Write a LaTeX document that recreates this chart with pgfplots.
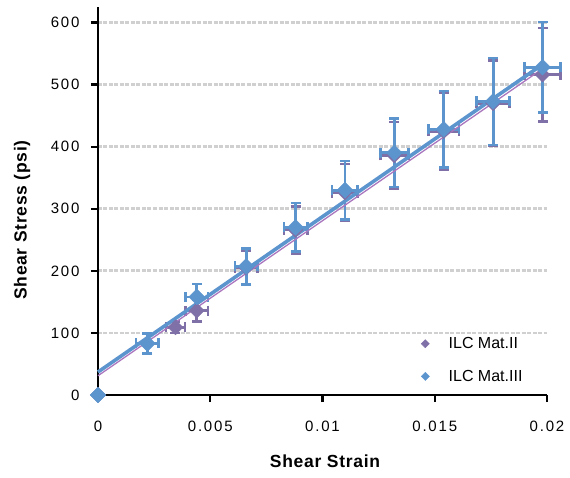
\documentclass[border=0pt]{standalone}
\usepackage{fontspec}
\setmainfont{Liberation Sans}
\usepackage{pgfplots}
\pgfplotsset{compat=1.18}
\usepackage{pgfplotstable}
\definecolor{blueS}{RGB}{92,148,206}
\definecolor{purpS}{RGB}{128,112,168}
\definecolor{purpL}{RGB}{170,118,190}
\definecolor{gridc}{RGB}{208,208,208}

\pgfplotstableread{
x y ex ey
0 0 0 0
0.00345 109 0.00042 9
0.0044 136 0.0005 18
0.0066 205 0.0005 28
0.0088 266 0.00052 38
0.0110 326 0.00057 46
0.0132 386 0.00062 54
0.0154 425 0.00068 62
0.0176 470 0.00073 69
0.0198 516 0.0008 75
}\mattwo

\pgfplotstableread{
x y ex ey
0 0 0 0
0.0022 83 0.0005 16
0.0044 158 0.0005 21
0.0066 207 0.0005 29
0.0088 270 0.00052 39
0.0110 330 0.00057 47
0.0132 390 0.00062 55
0.0154 428 0.00068 62
0.0176 473 0.00073 70
0.0198 528 0.0008 73
}\matthree

\begin{document}
\begin{tikzpicture}
\begin{axis}[
  scale only axis, width=449pt, height=388pt,
  xmin=0, xmax=0.02, ymin=0, ymax=625,
  axis lines=left,
  x axis line style={-, line width=2.8pt, black},
  y axis line style={-, line width=2.8pt, black},
  xtick={0,0.005,0.01,0.015,0.02},
  xticklabels={0,0.005,0.01,0.015,0.02},
  scaled x ticks=false,
  ytick={0,100,...,600},
  tick align=outside, major tick length=7pt,
  tick style={line width=2.2pt, black},
  ymajorgrids,
  grid style={gridc, line width=2.8pt, dash pattern=on 4pt off 1.5pt},
  tick label style={font=\fontsize{15}{18}\selectfont\addfontfeatures{LetterSpace=12}},
  xticklabel style={yshift=-15pt},
  yticklabel style={xshift=-8pt},
  /pgf/number format/assume math mode=true,
  xlabel={Shear Strain}, ylabel={Shear Stress (psi)},
  label style={font=\fontsize{17.5}{20}\selectfont\bfseries\addfontfeatures{LetterSpace=4}},
  xlabel style={at={(axis description cs:0.5056,-0.172)}, anchor=center},
  ylabel style={at={(axis description cs:-0.169,0.451)}, anchor=center},
  legend style={draw=none, fill=none, font=\fontsize{16}{19}\selectfont,
    at={(0.7127,0.026)}, anchor=south west, inner sep=0pt, row sep=16pt,
    cells={anchor=west}},
  legend image code/.code={\path[draw=none] (0,0) -- (1.0cm,0); \draw[#1] plot coordinates {(0.25cm,0cm)};},
  clip=false,
]
\addlegendimage{only marks, mark=square*, mark size=2.9pt, mark options={rotate=45, fill=purpS, draw=purpS}}
\addlegendentry{ILC Mat.II}
\addlegendimage{only marks, mark=square*, mark size=2.9pt, mark options={rotate=45, fill=blueS, draw=blueS}}
\addlegendentry{ILC Mat.III}

\addplot[forget plot, only marks, mark=square*, mark size=5.3pt,
  mark options={rotate=45, fill=purpS, draw=purpS},
  error bars/.cd, x dir=both, x explicit, y dir=both, y explicit,
  error bar style={line width=2.8pt, draw=purpS},
  error mark options={rotate=90, mark size=5pt, line width=2.6pt, draw=purpS}]
  table[x=x, y=y, x error=ex, y error=ey] {\mattwo};

\addplot[forget plot, only marks, mark=square*, mark size=5.6pt,
  mark options={rotate=45, fill=blueS, draw=blueS},
  error bars/.cd, x dir=both, x explicit, y dir=both, y explicit,
  error bar style={line width=2.8pt, draw=blueS},
  error mark options={rotate=90, mark size=5pt, line width=2.6pt, draw=blueS}]
  table[x=x, y=y, x error=ex, y error=ey] {\matthree};

\addplot[forget plot, blueS, line width=3.6pt] coordinates {(0,37) (0.0199,535)};
\addplot[forget plot, purpL, line width=1.3pt] coordinates {(0,31) (0.0199,528)};
\end{axis}
\pgfresetboundingbox
\path ([shift={(-98pt,-82pt)}]current axis.south west) rectangle ([shift={(23pt,7pt)}]current axis.north east);
\end{tikzpicture}
\end{document}
